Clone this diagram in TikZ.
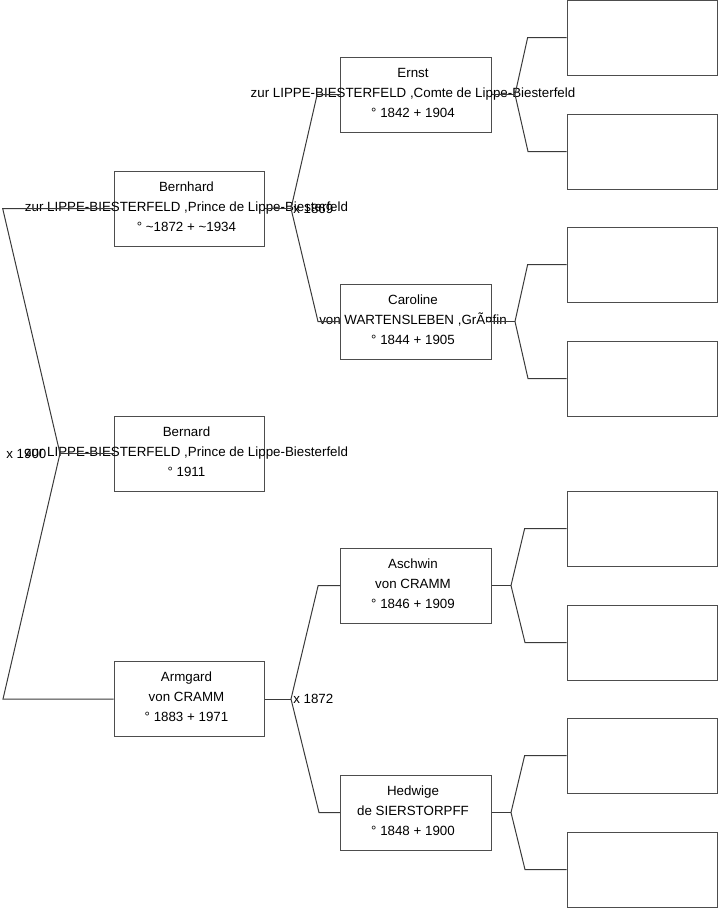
\documentclass[tikz,border=0pt]{standalone}
\usepackage{fontspec}
\setmainfont{Liberation Sans}
\usepackage{tikz}
\usetikzlibrary{positioning}
\definecolor{gray700}{HTML}{3a3a3a}
\definecolor{gray600}{HTML}{4d4d4d}
\tikzset{
  every node/.style={font=\fontsize{10}{15}\selectfont},
  person/.style={
    rectangle, draw=gray600, line width=0.75pt,
    minimum width=113pt, minimum height=56.25pt,
    inner sep=0pt
  },
  info/.style={
    align=center, inner sep=0pt, text=black,
    xshift=-2.25pt, yshift=1.5pt
  },
  marriage/.style={
    inner sep=0pt, text=black
  },
  link/.style={
    draw=gray700, line width=0.75pt
  },
}
\begin{document}
\begin{tikzpicture}[x=0.75pt, y=-0.75pt]
  \useasboundingbox (0,0) rectangle (719,908);
  % generation 1
  \node[person] (bernhard) at (189.5,208.5) {};
  \node[person] (bernard) at (189.5,453.5) {};
  \node[person] (armgard) at (189.5,699) {};
  % generation 2
  \node[person] (ernst) at (416,94.5) {};
  \node[person] (caroline) at (416,321.5) {};
  \node[person] (aschwin) at (416,585.5) {};
  \node[person] (hedwige) at (416,812.5) {};
  % generation 3 (unknown)
  \foreach \y [count=\i] in {37.5,151.5,264.5,378.5,528.5,642.5,755.5,869.5}
    \node[person] (anc\i) at (642.5,\y) {};

  % texts
  \node[info] (bernhardtxt) at (bernhard) {Bernhard\\zur LIPPE-BIESTERFELD ,Prince de Lippe-Biesterfeld\\° \textasciitilde1872 + \textasciitilde1934};
  \node[info] (bernardtxt) at (bernard) {Bernard\\zur LIPPE-BIESTERFELD ,Prince de Lippe-Biesterfeld\\° 1911};
  \node[info] (armgardtxt) at (armgard) {Armgard\\von CRAMM\\° 1883 + 1971};
  \node[info] (ernsttxt) at (ernst) {Ernst\\zur LIPPE-BIESTERFELD ,Comte de Lippe-Biesterfeld\\° 1842 + 1904};
  \node[info] (carolinetxt) at (caroline) {Caroline\\von WARTENSLEBEN ,GrÃ¤fin\\° 1844 + 1905};
  \node[info] (aschwintxt) at (aschwin) {Aschwin\\von CRAMM\\° 1846 + 1909};
  \node[info] (hedwigetxt) at (hedwige) {Hedwige\\de SIERSTORPFF\\° 1848 + 1900};

  % parents of Bernard
  \coordinate (f0) at (60,453.5);
  \draw[link] (bernard.west) -- (f0);
  \draw[link] (bernhard.west) -- ++(-111,0) -- (f0) -- ++(-57,245.5) -- (armgard.west);
  \node[marriage, left=10pt of f0] (m0) {x 1900};

  % parents of Bernhard
  \coordinate (f1) at (291,208.5);
  \draw[link] (bernhard.east) -- (f1);
  \draw[link] (ernst.west) -- ++(-23,0) -- (f1) -- ++(27,113) -- (caroline.west);
  \node[marriage, right=1.5pt of f1] (m1) {x 1869};

  % parents of Armgard
  \coordinate (f2) at (291,699);
  \draw[link] (armgard.east) -- (f2);
  \draw[link] (aschwin.west) -- ++(-22,0) -- (f2) -- ++(28,113.5) -- (hedwige.west);
  \node[marriage, right=1.5pt of f2] (m2) {x 1872};

  % parents of generation 2
  \coordinate (f3) at (515,94.5);
  \draw[link] (ernst.east) -- (f3);
  \draw[link] (anc1.west) -- ++(-39,0) -- (f3) -- ++(13,57) -- (anc2.west);

  \coordinate (f4) at (515,321.5);
  \draw[link] (caroline.east) -- (f4);
  \draw[link] (anc3.west) -- ++(-39,0) -- (f4) -- ++(13,57) -- (anc4.west);

  \coordinate (f5) at (511,585.5);
  \draw[link] (aschwin.east) -- (f5);
  \draw[link] (anc5.west) -- ++(-42,0) -- (f5) -- ++(14,57) -- (anc6.west);

  \coordinate (f6) at (511,812.5);
  \draw[link] (hedwige.east) -- (f6);
  \draw[link] (anc7.west) -- ++(-42,0) -- (f6) -- ++(14,57) -- (anc8.west);
\end{tikzpicture}
\end{document}
